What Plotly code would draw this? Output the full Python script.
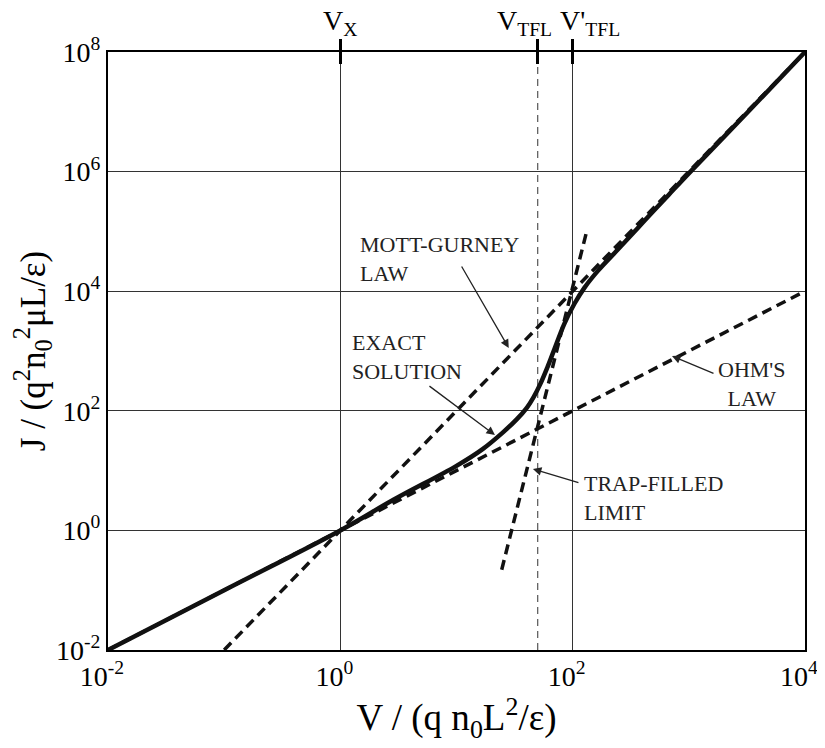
import math
import plotly.graph_objects as go

# ---------------- data ----------------
ohm_V = [1e-2, 1e4]
ohm_J = [1e-2, 1e4]

mg_V = [1e-1, 1e4]
mg_J = [1e-2, 1e8]

tfl_V = [24.5, 132]
tfl_J = [0.22, 1.0e5]

exact_logV = [-2.0, -1.0, 0.0, 0.465, 1.0, 1.225, 1.40, 1.52, 1.605, 1.664, 1.722,
              1.781, 1.839, 1.927, 2.015, 2.102, 2.217, 2.391, 2.60, 2.826,
              3.0, 3.5, 4.0]
exact_logJ = [-2.0, -1.0, 0.0, 0.52, 1.08, 1.36, 1.64, 1.86, 2.05, 2.23, 2.45,
              2.72, 3.01, 3.45, 3.79, 4.06, 4.34, 4.70, 5.14, 5.61,
              5.97, 6.98, 8.0]
exact_V = [10 ** v for v in exact_logV]
exact_J = [10 ** j for j in exact_logJ]

V_TFL = 50
top_tick_vals = [1, 50, 100]
top_tick_text = ["V<sub>X</sub>", "V<sub>TFL</sub>", "V'<sub>TFL</sub>"]

x_tick_vals = [1e-2, 1e0, 1e2, 1e4]
x_tick_text = ["10<sup>-2</sup>", "10<sup>0</sup>", "10<sup>2</sup>", "10<sup>4</sup>"]
y_tick_vals = [1e-2, 1e0, 1e2, 1e4, 1e6, 1e8]
y_tick_text = ["10<sup>-2</sup>", "10<sup>0</sup>", "10<sup>2</sup>",
               "10<sup>4</sup>", "10<sup>6</sup>", "10<sup>8</sup>"]

FONT = "Liberation Serif, Times New Roman, serif"
DASH = "10px,6px"

fig = go.Figure()

# V_TFL thin dashed vertical
fig.add_trace(go.Scatter(x=[V_TFL, V_TFL], y=[1e-2, 1e8], mode="lines",
                         line=dict(color="#555", width=1.2, dash="7px,5px"),
                         hoverinfo="skip"))
# Ohm's law
fig.add_trace(go.Scatter(x=ohm_V, y=ohm_J, mode="lines",
                         line=dict(color="#111", width=3.5, dash=DASH)))
# Mott-Gurney law
fig.add_trace(go.Scatter(x=mg_V, y=mg_J, mode="lines",
                         line=dict(color="#111", width=3.5, dash=DASH)))
# Trap-filled limit
fig.add_trace(go.Scatter(x=tfl_V, y=tfl_J, mode="lines",
                         line=dict(color="#111", width=3.5, dash=DASH)))
# Exact solution
fig.add_trace(go.Scatter(x=exact_V, y=exact_J, mode="lines",
                         line=dict(color="#111", width=4.5, shape="spline", smoothing=1.0)))

# invisible traces to carry the top axes
fig.add_trace(go.Scatter(x=top_tick_vals, y=[1, 1, 1], xaxis="x2", mode="markers",
                         marker=dict(opacity=0), hoverinfo="skip"))
fig.add_trace(go.Scatter(x=top_tick_vals, y=[1, 1, 1], xaxis="x3", mode="markers",
                         marker=dict(opacity=0), hoverinfo="skip"))

axis_common = dict(showline=True, linecolor="black", linewidth=2, mirror=True,
                   gridcolor="#333", gridwidth=1.2, zeroline=False, automargin=False,
                   tickfont=dict(family=FONT, size=28, color="black"))

# page body has an 8px margin: size the figure so the plot box lands where the reference has it
fig.update_layout(
    width=817, height=740,
    margin=dict(l=100, r=20, t=44, b=98),
    paper_bgcolor="white", plot_bgcolor="white",
    showlegend=False,
    font=dict(family=FONT, color="black"),
    xaxis=dict(type="log", range=[-2, 4], tickvals=x_tick_vals, ticktext=x_tick_text,
               ticks="", tickangle=0, ticklabelshift=-6,
               title=dict(text="V / (q n<sub>0</sub>L<sup>2</sup>/ε)",
                          font=dict(family=FONT, size=37), standoff=10),
               **axis_common),
    yaxis=dict(type="log", range=[-2, 8], tickvals=y_tick_vals, ticktext=y_tick_text,
               ticks="",
               title=dict(text="J / (q<sup>2</sup>n<sub>0</sub><sup>2</sup>μL/ε)",
                          font=dict(family=FONT, size=35), standoff=8),
               **axis_common),
    xaxis2=dict(type="log", range=[-2, 4], overlaying="x", side="top", anchor="y",
                tickvals=top_tick_vals, ticks="outside", showticklabels=False,
                ticklen=12, tickwidth=3, tickcolor="black", showgrid=False,
                showline=False, zeroline=False, automargin=False),
    xaxis3=dict(type="log", range=[-2, 4], overlaying="x", side="top", anchor="y",
                tickvals=top_tick_vals, ticks="inside", ticklen=12, tickwidth=3,
                tickcolor="black", showticklabels=False, showgrid=False,
                showline=False, zeroline=False, automargin=False),
)

# top tick labels (placed so that the "V" sits as in the reference)
for val, txt, shift in zip(top_tick_vals, top_tick_text, [-19, -43, -15]):
    fig.add_annotation(x=math.log10(val), y=1, xref="x", yref="paper", text=txt,
                       showarrow=False, xanchor="left", yanchor="bottom",
                       xshift=shift, yshift=10,
                       font=dict(family=FONT, size=28, color="black"))

def paper(px, py):
    return (px - 108) / 697, 1 - (py - 52) / 598

text_font = dict(family=FONT, size=22, color="#222")
for label, (px, py), anchor, align in [
    ("MOTT-GURNEY<br>LAW", (358, 259), "left", "left"),
    ("EXACT<br>SOLUTION", (350, 357), "left", "left"),
    ("OHM'S<br>LAW", (752, 384), "center", "center"),
    ("TRAP-FILLED<br>LIMIT", (582, 498), "left", "left"),
]:
    xp, yp = paper(px, py)
    fig.add_annotation(x=xp, y=yp, xref="paper", yref="paper", text=label,
                       showarrow=False, xanchor=anchor, yanchor="middle", align=align,
                       font=text_font)

# arrows: tip in (log) data coords, tail as pixel offset
for (lx, ly), (ax, ay) in [
    ((1.45, 3.05), (-48, -83)),
    ((1.331, 1.595), (-67, -50)),
    ((2.855, 2.916), (43, 18)),
    ((1.658, 1.027), (47, 14)),
]:
    fig.add_annotation(x=lx, y=ly, xref="x", yref="y", text="", showarrow=True,
                       ax=ax, ay=ay, arrowhead=2, arrowsize=1.3, arrowwidth=1.3,
                       arrowcolor="#222")

fig.write_html("out.html")
